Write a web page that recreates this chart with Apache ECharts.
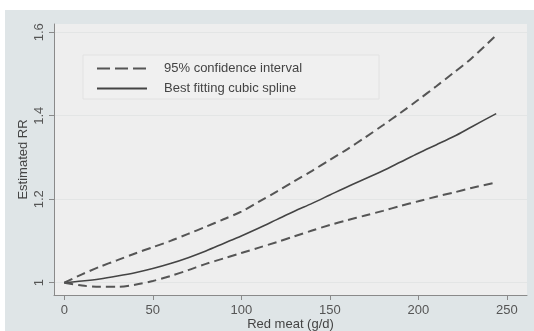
<!DOCTYPE html>
<html>
<head>
<meta charset="utf-8">
<script src="https://cdn.jsdelivr.net/npm/echarts@6/dist/echarts.min.js"></script>
<style>
html,body{margin:0;padding:0;background:#ffffff;}
#chart{width:534px;height:331px;}
</style>
</head>
<body>
<div id="chart"></div>
<script>
var xValues = [0, 10, 20, 30, 40, 50, 60, 70, 80, 90, 100, 110, 120, 130, 140, 150, 160, 170, 180, 190, 200, 210, 220, 230, 244];
var splineRR = [1.0, 1.004, 1.009, 1.016, 1.024, 1.034, 1.046, 1.06, 1.076, 1.094, 1.112, 1.131, 1.151, 1.171, 1.19, 1.21, 1.23, 1.249, 1.268, 1.289, 1.31, 1.33, 1.35, 1.373, 1.405];
var upperCI = [1.0, 1.02, 1.038, 1.054, 1.07, 1.085, 1.10, 1.117, 1.134, 1.152, 1.17, 1.194, 1.218, 1.243, 1.268, 1.294, 1.32, 1.348, 1.377, 1.407, 1.438, 1.47, 1.503, 1.537, 1.593];
var lowerCI = [1.0, 0.993, 0.99, 0.99, 0.995, 1.004, 1.016, 1.03, 1.045, 1.058, 1.071, 1.084, 1.097, 1.111, 1.125, 1.138, 1.15, 1.161, 1.172, 1.184, 1.195, 1.206, 1.216, 1.227, 1.24];
var xTicks = [0, 50, 100, 150, 200, 250];
var yTicks = [1, 1.2, 1.4, 1.6];
var legendNames = ['95% confidence interval', 'Best fitting cubic spline'];

function pairs(ys){ return xValues.map(function(x,i){ return [x, ys[i]]; }); }

var chart = echarts.init(document.getElementById('chart'));
var font = 'Liberation Sans, Arial, sans-serif';
var dashStyle = {color:'#555555', width:2, type:[9,5]};
chart.setOption({
  animation:false,
  backgroundColor:'#ffffff',
  graphic:[{type:'rect', left:5, top:10, z:-10, shape:{width:529, height:321}, style:{fill:'#dfe5e7'}}],
  grid:{left:54, right:7, top:24, bottom:36, show:true, backgroundColor:'#eeeeee', borderWidth:0,
        containLabel:false, outerBoundsMode:'none'},
  legend:{
    left:83, top:55, orient:'vertical', itemWidth:50, itemHeight:14, itemGap:7,
    padding:[7,77,4,13], backgroundColor:'#f0f0f0', borderColor:'#e2e2e2', borderWidth:1,
    data:[
      {name:legendNames[0], lineStyle:{type:[13,5], width:2, color:'#555555'}},
      {name:legendNames[1]}
    ],
    itemStyle:{opacity:0},
    textStyle:{fontFamily:font, fontSize:13, color:'#444', padding:[0,0,0,12]},
    selectedMode:false
  },
  xAxis:{
    type:'value', min:-5.8, max:261.4,
    name:'Red meat (g/d)', nameLocation:'middle', nameGap:23, nameMoveOverlap:false,
    nameTextStyle:{fontFamily:font, fontSize:13, color:'#444'},
    axisLine:{show:true, onZero:false, lineStyle:{color:'#8a8a8a', width:1}},
    axisTick:{show:true, length:5, customValues:xTicks, lineStyle:{color:'#8a8a8a'}},
    axisLabel:{customValues:xTicks, fontFamily:font, fontSize:13, color:'#555', margin:9},
    splitLine:{show:false}
  },
  yAxis:{
    type:'value', min:0.9705, max:1.6196,
    name:'Estimated RR', nameLocation:'middle', nameGap:24, nameRotate:90, nameMoveOverlap:false,
    nameTextStyle:{fontFamily:font, fontSize:13, color:'#444'},
    axisLine:{show:true, onZero:false, lineStyle:{color:'#8a8a8a', width:1}},
    axisTick:{show:true, length:5, customValues:yTicks, lineStyle:{color:'#8a8a8a'}},
    axisLabel:{customValues:yTicks, rotate:90, fontFamily:font, fontSize:13, color:'#555', margin:8,
      formatter:function(v){ return String(Math.round(v*10)/10); }},
    splitLine:{show:true, lineStyle:{color:'#e3e5e5', width:1}}
  },
  series:[
    {name:legendNames[0], type:'line', data:pairs(upperCI), smooth:0.3, symbol:'none', lineStyle:dashStyle, itemStyle:{color:'#555555'}},
    {name:legendNames[1], type:'line', data:pairs(splineRR), smooth:0.3, symbol:'none', lineStyle:{color:'#444444', width:1.6}, itemStyle:{color:'#444444'}},
    {name:legendNames[0], type:'line', data:pairs(lowerCI), smooth:0.3, symbol:'none', lineStyle:dashStyle, itemStyle:{color:'#555555'}}
  ]
});
</script>
</body>
</html>
